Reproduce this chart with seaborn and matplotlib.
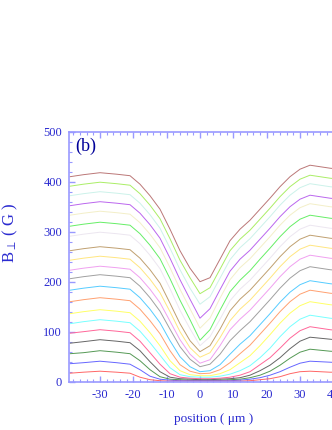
import matplotlib
matplotlib.use('Agg')
import numpy as np
import pandas as pd
import matplotlib.pyplot as plt
import seaborn as sns
from matplotlib.ticker import MultipleLocator

position = [-39, -35, -30, -25, -21, -18, -15, -12, -9, -6, -3, 0,
            3, 6, 9, 12, 15, 18, 21, 24, 27, 30, 33, 36, 39, 42]

# B_perp (G) for each field step, top curve first
sweep_01 = [410, 414, 418, 415, 412, 395, 372, 345, 305, 262, 227, 200,
            208, 245, 282, 305, 323, 345, 367, 390, 410, 425, 433, 430, 427, 425]
sweep_02 = [391, 395, 399, 396, 393, 376, 353, 326, 286, 243, 208, 176,
            188, 225, 262, 285, 303, 325, 347, 370, 390, 405, 413, 410, 407, 405]
sweep_03 = [372, 376, 380, 377, 374, 357, 334, 307, 267, 224, 187, 155,
            170, 207, 244, 268, 286, 308, 330, 353, 373, 388, 396, 393, 390, 388]
sweep_04 = [352, 356, 360, 357, 354, 337, 314, 287, 247, 204, 165, 127,
            146, 184, 221, 245, 263, 285, 307, 330, 350, 365, 373, 370, 367, 365]
sweep_05 = [333, 337, 341, 338, 335, 318, 295, 268, 228, 185, 146, 107,
            127, 167, 204, 228, 246, 268, 290, 313, 333, 348, 356, 353, 350, 348]
sweep_06 = [311, 315, 319, 316, 313, 296, 273, 246, 206, 163, 124, 83,
            104, 143, 180, 203, 222, 245, 267, 290, 310, 325, 333, 330, 327, 325]
sweep_07 = [291, 295, 299, 296, 293, 276, 253, 226, 186, 143, 106, 72,
            90, 125, 162, 185, 203, 225, 247, 270, 290, 305, 313, 310, 307, 305]
sweep_08 = [262, 266, 270, 267, 264, 247, 224, 197, 157, 116, 82, 60,
            72, 105, 142, 165, 183, 205, 227, 250, 270, 285, 293, 290, 287, 285]
sweep_09 = [243, 247, 251, 248, 245, 228, 205, 178, 140, 100, 68, 49,
            58, 88, 122, 145, 163, 185, 207, 230, 250, 265, 273, 270, 267, 265]
sweep_10 = [223, 227, 231, 228, 225, 208, 185, 158, 121, 84, 55, 37,
            44, 72, 104, 125, 143, 165, 187, 210, 230, 245, 253, 250, 247, 245]
sweep_11 = [206, 210, 214, 211, 208, 191, 168, 141, 105, 70, 45, 30,
            35, 55, 82, 102, 120, 142, 164, 187, 207, 222, 230, 227, 224, 222]
sweep_12 = [183, 187, 191, 188, 185, 168, 145, 118, 82, 50, 30, 20,
            22, 34, 55, 75, 92, 114, 136, 159, 179, 194, 202, 199, 196, 194]
sweep_13 = [160, 164, 168, 165, 162, 145, 122, 96, 62, 34, 21, 16,
            17, 24, 38, 56, 73, 95, 117, 140, 160, 175, 183, 180, 177, 175]
sweep_14 = [136, 140, 144, 141, 138, 121, 98, 72, 42, 22, 14, 12,
            12, 16, 24, 38, 52, 72, 94, 117, 137, 152, 160, 157, 154, 152]
sweep_15 = [116, 120, 124, 121, 118, 101, 78, 53, 28, 14, 10, 9,
            9, 11, 15, 22, 32, 48, 67, 90, 110, 125, 133, 130, 127, 125]
sweep_16 = [97, 100, 104, 101, 98, 81, 58, 35, 16, 9, 7, 6,
            6, 7, 9, 13, 20, 34, 48, 67, 87, 102, 110, 107, 104, 102]
sweep_17 = [77, 80, 84, 81, 78, 62, 40, 20, 9, 6, 5, 4,
            4, 5, 6, 8, 13, 22, 33, 48, 66, 81, 89, 87, 85, 83]
sweep_18 = [56, 58, 62, 59, 56, 42, 24, 10, 5, 4, 3, 3,
            3, 3, 4, 5, 8, 13, 21, 33, 47, 59, 65, 63, 61, 60]
sweep_19 = [36, 38, 41, 38, 35, 24, 11, 5, 3, 2, 2, 2,
            2, 2, 2, 3, 5, 8, 13, 20, 29, 37, 41, 40, 39, 38]
sweep_20 = [17, 19, 21, 19, 17, 9, 4, 2, 1, 1, 1, 1,
            1, 1, 1, 1, 2, 4, 6, 10, 16, 20, 21, 20, 19, 19]

sweeps = [sweep_01, sweep_02, sweep_03, sweep_04, sweep_05, sweep_06, sweep_07,
          sweep_08, sweep_09, sweep_10, sweep_11, sweep_12, sweep_13, sweep_14,
          sweep_15, sweep_16, sweep_17, sweep_18, sweep_19, sweep_20]

colors = ['#bb7777', '#aaee66', '#ccf2ea', '#bb66ee', '#f3efc8', '#66ee66',
          '#ece6f0', '#c0a070', '#ffe680', '#f0a0f0', '#a0a0a0', '#55ccff',
          '#ffa070', '#ffff66', '#77ffff', '#ff6699', '#666666', '#559955',
          '#6666ff', '#ff6666']

sns.set_style('ticks')
plt.rcParams['font.family'] = ['Liberation Serif', 'DejaVu Serif']
plt.rcParams['mathtext.fontset'] = 'stix'
plt.rcParams['axes.unicode_minus'] = False

rows = []
for k, sweep in enumerate(sweeps):
    for x, b in zip(position, sweep):
        rows.append((k, x, b))
df = pd.DataFrame(rows, columns=['sweep', 'position', 'B'])

axis_col = '#9999ff'
text_col = '#2a2ad0'

fig = plt.figure(figsize=(3.32, 4.30), dpi=100)
ax = fig.add_axes([69 / 332, 48.3 / 430, 271 / 332, 250 / 430])
sns.lineplot(data=df, x='position', y='B', hue='sweep', palette=colors,
             legend=False, linewidth=0.7, estimator=None, ax=ax)

ax.set_xlim(-39.3, 42)
ax.set_ylim(0, 500)
ax.xaxis.set_major_locator(MultipleLocator(10))
ax.xaxis.set_minor_locator(MultipleLocator(2))
ax.yaxis.set_major_locator(MultipleLocator(100))
ax.yaxis.set_minor_locator(MultipleLocator(20))
ax.tick_params(which='both', direction='in', top=True, right=True,
               color=axis_col, labelcolor=text_col, labelsize=9, pad=5)
ax.tick_params(which='major', length=4, width=1)
ax.tick_params(which='minor', length=2.2, width=0.8)
for sp in ax.spines.values():
    sp.set_color(axis_col)
    sp.set_linewidth(1.2)

ax.set_xlabel('position ( \u03bcm )', color=text_col, fontsize=9.5)
ax.set_ylabel(r'B$_{\perp}$ ( G )', color=text_col, fontsize=12)
ax.xaxis.set_label_coords(0.533, -0.125)
ax.yaxis.set_label_coords(-0.181, 0.595)
ax.text(0.022, 0.975, '(b)', transform=ax.transAxes, ha='left', va='top',
        fontsize=13, color='#000099')

fig.savefig('out.png', dpi=100)
